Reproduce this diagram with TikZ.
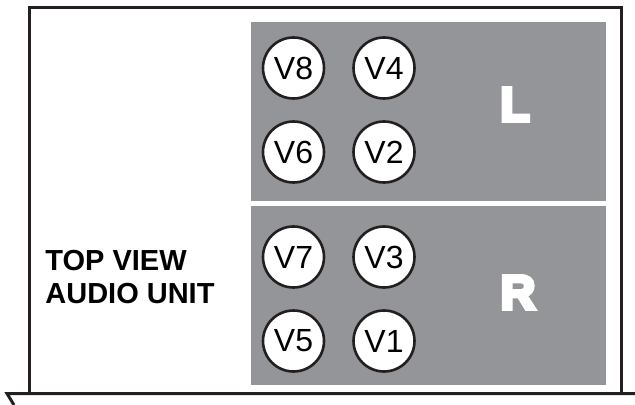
\documentclass[tikz,border=0pt]{standalone}
\usepackage{fontspec}
\setmainfont{Liberation Sans}
\newfontfamily\heavyfont{Liberation Sans}[BoldFeatures={FakeBold=8}]
\definecolor{panelgray}{RGB}{147,149,152}
\definecolor{inkblack}{RGB}{35,31,32}
\begin{document}
\begin{tikzpicture}[x=0.5pt,y=-0.5pt,
    valve/.style={circle,draw=inkblack,line width=1.3pt,fill=white,minimum size=30.5pt,inner sep=0pt,font=\fontsize{16}{16}\selectfont},
    side/.style={text=white,inner sep=0pt,font=\heavyfont\bfseries\fontsize{24}{24}\selectfont},
    frame/.style={draw=inkblack,line width=1.5pt}]
    \useasboundingbox (0,0) rectangle (635,405);
    %Housing
    \draw[frame] (29,393.5) -- (29,7.5) -- (621,7.5) -- (621,393.5);
    \draw[frame] (14,405) -- (7,393.5) -- (635,393.5);
    %Left channel
    \fill[panelgray] (251,22) rectangle (605.5,201);
    \node[valve] (v8) at (293.5,68) {V8};
    \node[valve] (v4) at (384,68) {V4};
    \node[valve] (v6) at (293.5,152) {V6};
    \node[valve] (v2) at (384,152) {V2};
    \node[side] (lch) at (515,104.5) {L};
    %Right channel
    \fill[panelgray] (251,206) rectangle (605.5,385);
    \node[valve] (v7) at (293.5,257) {V7};
    \node[valve] (v3) at (384,257) {V3};
    \node[valve] (v5) at (293.5,341) {V5};
    \node[valve] (v1) at (384,341) {V1};
    \node[side] (rch) at (518,292.5) {R};
    %Label
    \node[anchor=north west,align=left,inner sep=0pt,font=\bfseries\fontsize{14.5}{16.5}\selectfont] (title) at (45,250) {TOP VIEW\\AUDIO UNIT};
\end{tikzpicture}
\end{document}
